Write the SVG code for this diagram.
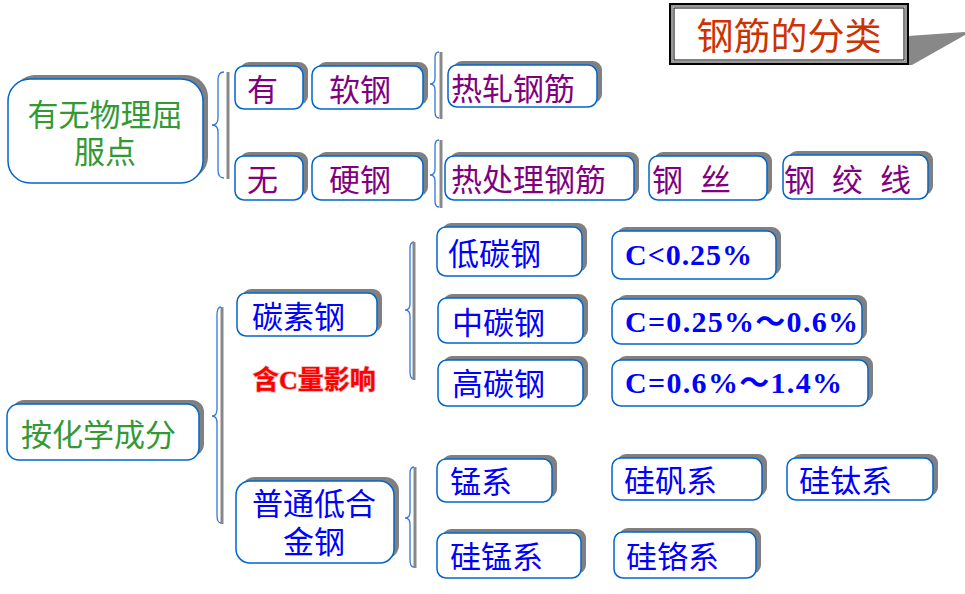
<svg xmlns="http://www.w3.org/2000/svg" width="965" height="594" viewBox="0 0 965 594">
<style>
.bx{fill:#fff;stroke:#0066CC;stroke-width:1.5}
.sh{fill:#808080}
.t{font-family:"Noto Sans CJK SC","Noto Sans",sans-serif;font-size:31px}
.g{fill:#339933}
.p{fill:#800080}
.b{fill:#0000FF}
.c{font-family:"Liberation Serif","Noto Sans CJK SC",serif;font-size:30px;font-weight:bold;fill:#0000FF}
.br{fill:none;stroke:#3377DD;stroke-width:1.3}
.bs{stroke:#888;stroke-width:3}
</style>
<rect width="965" height="594" fill="#fff"/>
<g id="title">
<polygon points="908,36 965,32 965,35 912,65 908,65" fill="#888"/>
<rect x="670" y="4" width="238" height="60" fill="#fff" stroke="#000" stroke-width="2"/>
<rect x="672" y="6" width="234" height="56" fill="none" stroke="#999" stroke-width="2"/>
<rect x="674" y="8" width="230" height="52" fill="none" stroke="#000" stroke-width="1"/>
<text x="789" y="50" text-anchor="middle" style="font-family:'Noto Sans CJK SC',sans-serif;font-size:37px;fill:#CC3300">钢筋的分类</text>
</g>
<g id="connectors">
<path class="br" d="M224,72 Q218,72 218,80 L218,118 Q218,125 212,125 Q218,125 218,132 L218,170 Q218,178 224,178"/>
<line class="bs" x1="228" y1="72" x2="228" y2="179"/>
<path class="br" d="M439,52 Q435,52 435,58 L435,78 Q435,84 430,84 Q435,84 435,90 L435,112 Q435,118 439,118"/>
<line class="bs" x1="441" y1="52" x2="441" y2="119"/>
<path class="br" d="M439,140 Q435,140 435,146 L435,169 Q435,175 430,175 Q435,175 435,181 L435,201 Q435,207 439,207"/>
<line class="bs" x1="441" y1="140" x2="441" y2="208"/>
<path class="br" d="M221,307 Q217,307 217,315 L217,409 Q217,416 212,416 Q217,416 217,423 L217,515 Q217,523 221,523"/>
<line class="bs" x1="222" y1="307" x2="222" y2="524"/>
<path class="br" d="M414,242 Q410,242 410,249 L410,304 Q410,310 405,310 Q410,310 410,316 L410,372 Q410,379 414,379"/>
<line class="bs" x1="414" y1="242" x2="414" y2="380"/>
<path class="br" d="M414,467 Q410,467 410,474 L410,512 Q410,518 405,518 Q410,518 410,524 L410,560 Q410,567 414,567"/>
<line class="bs" x1="415" y1="467" x2="415" y2="568"/>
</g>
<g id="n-yield">
<rect class="sh" x="13" y="75" width="195" height="104" rx="22"/>
<rect class="bx" x="8" y="79" width="195" height="104" rx="22"/>
<text class="t g" text-anchor="middle"><tspan x="105" y="126">有无物理屈</tspan><tspan x="105" y="163">服点</tspan></text>
</g>
<g id="n-you">
<rect class="sh" x="240" y="62" width="68" height="43" rx="9"/>
<rect class="bx" x="235" y="66" width="68" height="43" rx="9"/>
<text class="t p" x="247" y="101">有</text>
</g>
<g id="n-ruangang">
<rect class="sh" x="317" y="62" width="111" height="43" rx="9"/>
<rect class="bx" x="312" y="66" width="111" height="43" rx="9"/>
<text class="t p" x="329" y="101">软钢</text>
</g>
<g id="n-wu">
<rect class="sh" x="240" y="152" width="68" height="44" rx="9"/>
<rect class="bx" x="235" y="156" width="68" height="44" rx="9"/>
<text class="t p" x="247" y="191">无</text>
</g>
<g id="n-yinggang">
<rect class="sh" x="317" y="152" width="111" height="44" rx="9"/>
<rect class="bx" x="312" y="156" width="111" height="44" rx="9"/>
<text class="t p" x="329" y="191">硬钢</text>
</g>
<g id="n-rezha">
<rect class="sh" x="453" y="61" width="149" height="42" rx="9"/>
<rect class="bx" x="448" y="65" width="149" height="42" rx="9"/>
<text class="t p" x="451" y="100">热轧钢筋</text>
</g>
<g id="n-rechuli">
<rect class="sh" x="450" y="152" width="189" height="44" rx="9"/>
<rect class="bx" x="445" y="156" width="189" height="44" rx="9"/>
<text class="t p" x="451" y="191">热处理钢筋</text>
</g>
<g id="n-gangsi">
<rect class="sh" x="654" y="152" width="118" height="44" rx="9"/>
<rect class="bx" x="649" y="156" width="118" height="44" rx="9"/>
<text class="t p" x="652" y="191" style="word-spacing:10px">钢 丝</text>
</g>
<g id="n-gangjiaoxian">
<rect class="sh" x="788" y="151" width="145" height="44" rx="9"/>
<rect class="bx" x="783" y="155" width="145" height="44" rx="9"/>
<text class="t p" x="784" y="191" style="word-spacing:10px">钢 绞 线</text>
</g>
<g id="n-chem">
<rect class="sh" x="12" y="400" width="192" height="56" rx="12"/>
<rect class="bx" x="7" y="404" width="192" height="56" rx="12"/>
<text class="t g" x="21" y="446">按化学成分</text>
</g>
<g id="n-tansugang">
<rect class="sh" x="242" y="289" width="140" height="43" rx="9"/>
<rect class="bx" x="237" y="293" width="140" height="43" rx="9"/>
<text class="t b" x="252" y="328">碳素钢</text>
</g>
<g id="n-note">
<text x="253" y="389" fill="#FF0000" style="font-family:'Liberation Serif','Noto Sans CJK SC',serif;font-size:26px;font-weight:bold;paint-order:stroke;stroke:#F0B0B0;stroke-width:1.5">含C量影响</text>
</g>
<g id="n-ditan">
<rect class="sh" x="442" y="223" width="145" height="49" rx="9"/>
<rect class="bx" x="437" y="227" width="145" height="49" rx="9"/>
<text class="t b" x="448" y="265">低碳钢</text>
</g>
<g id="n-zhongtan">
<rect class="sh" x="443" y="294" width="145" height="45" rx="9"/>
<rect class="bx" x="438" y="298" width="145" height="45" rx="9"/>
<text class="t b" x="452" y="334">中碳钢</text>
</g>
<g id="n-gaotan">
<rect class="sh" x="443" y="356" width="145" height="46" rx="9"/>
<rect class="bx" x="438" y="360" width="145" height="46" rx="9"/>
<text class="t b" x="452" y="395">高碳钢</text>
</g>
<g id="n-c1">
<rect class="sh" x="617" y="227" width="164" height="48" rx="9"/>
<rect class="bx" x="612" y="231" width="164" height="48" rx="9"/>
<text class="c" x="625" y="265" textLength="127">C&lt;0.25%</text>
</g>
<g id="n-c2">
<rect class="sh" x="617" y="295" width="250" height="45" rx="9"/>
<rect class="bx" x="612" y="299" width="250" height="45" rx="9"/>
<text class="c" x="625" y="332" textLength="233">C=0.25%～0.6%</text>
</g>
<g id="n-c3">
<rect class="sh" x="617" y="356" width="256" height="46" rx="9"/>
<rect class="bx" x="612" y="360" width="256" height="46" rx="9"/>
<text class="c" x="625" y="393" textLength="217">C=0.6%～1.4%</text>
</g>
<g id="n-dihejin">
<rect class="sh" x="241" y="477" width="158" height="82" rx="14"/>
<rect class="bx" x="236" y="481" width="158" height="82" rx="14"/>
<text class="t b" text-anchor="middle"><tspan x="314" y="515">普通低合</tspan><tspan x="314" y="553">金钢</tspan></text>
</g>
<g id="n-mengxi">
<rect class="sh" x="442" y="455" width="115" height="43" rx="9"/>
<rect class="bx" x="437" y="459" width="115" height="43" rx="9"/>
<text class="t b" x="450" y="493">锰系</text>
</g>
<g id="n-guimengxi">
<rect class="sh" x="442" y="529" width="144" height="45" rx="9"/>
<rect class="bx" x="437" y="533" width="144" height="45" rx="9"/>
<text class="t b" x="450" y="568">硅锰系</text>
</g>
<g id="n-guifanxi">
<rect class="sh" x="617" y="454" width="150" height="42" rx="9"/>
<rect class="bx" x="612" y="458" width="150" height="42" rx="9"/>
<text class="t b" x="624" y="492">硅矾系</text>
</g>
<g id="n-guitaixi">
<rect class="sh" x="792" y="454" width="146" height="42" rx="9"/>
<rect class="bx" x="787" y="458" width="146" height="42" rx="9"/>
<text class="t b" x="799" y="492">硅钛系</text>
</g>
<g id="n-guigexi">
<rect class="sh" x="619" y="528" width="142" height="46" rx="9"/>
<rect class="bx" x="614" y="532" width="142" height="46" rx="9"/>
<text class="t b" x="626" y="568">硅铬系</text>
</g>
</svg>
